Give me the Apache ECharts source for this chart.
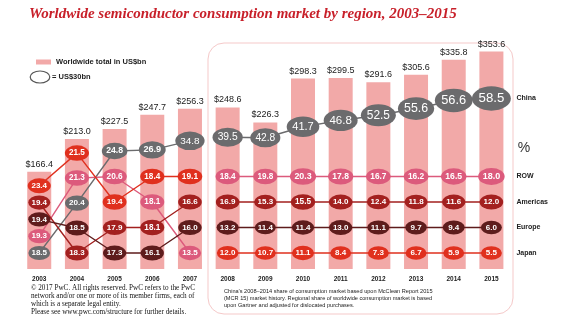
<!DOCTYPE html>
<html><head><meta charset="utf-8">
<script src="https://cdn.jsdelivr.net/npm/echarts@6/dist/echarts.min.js"></script>
<style>html,body{margin:0;padding:0;background:#fff}#c{width:570px;height:321px}</style>
</head><body><div id="c"></div>
<script>
// ---------------- data ----------------
const years    = ['2003','2004','2005','2006','2007','2008','2009','2010','2011','2012','2013','2014','2015'];
const totals   = [166.4, 213.0, 227.5, 247.7, 256.3, 248.6, 226.3, 298.3, 299.5, 291.6, 305.6, 335.8, 353.6];
const china    = [18.5, 20.4, 24.8, 26.9, 34.8, 39.5, 42.8, 41.7, 46.8, 52.5, 55.6, 56.6, 58.5];
const row      = [19.3, 21.3, 20.6, 18.1, 13.5, 18.4, 19.8, 20.3, 17.8, 16.7, 16.2, 16.5, 18.0];
const americas = [19.4, 18.3, 17.9, 18.1, 16.6, 16.9, 15.3, 15.5, 14.0, 12.4, 11.8, 11.6, 12.0];
const europe   = [19.4, 18.5, 17.3, 16.1, 16.0, 13.2, 11.4, 11.4, 13.0, 11.1, 9.7, 9.4, 6.0];
const japan    = [23.4, 21.5, 19.4, 18.4, 19.1, 12.0, 10.7, 11.1, 8.4, 7.3, 6.7, 5.9, 5.5];
const regionNames = ['China', 'ROW', 'Americas', 'Europe', 'Japan'];
const regionData  = [china, row, americas, europe, japan];
const keyValue = 30; // US$bn ellipse key
const splitAt = 5;   // 2003-2007 | 2008-2015 panels

// ---------------- styles ----------------
const regionColors = ['#6b6b6d', '#dc5a7c', '#a3201f', '#5e1c1c', '#e0301e'];
const barColor = '#f2a9a8';
const GRID_TOP = 40, GRID_H = 229, CAT_W = 37.68, GRID_LEFT = 20.4;

function sizeFor(bn) {
  const w = Math.min(40, Math.max(21, 11 + 1.94 * Math.sqrt(bn)));
  return [w, 0.6 * w + 1];
}

const chart = echarts.init(document.getElementById('c'), null, {renderer: 'canvas'});

const panels = [
  {idx: [0, splitAt], left: GRID_LEFT, width: CAT_W * splitAt},
  {idx: [splitAt, years.length], left: GRID_LEFT + CAT_W * splitAt, width: CAT_W * (years.length - splitAt)}
];

const baseOption = {
  animation: false,
  backgroundColor: '#fff',
  title: {
    text: 'Worldwide semiconductor consumption market by region, 2003–2015',
    left: 24, top: 2,
    textStyle: {fontFamily: 'Liberation Serif', fontStyle: 'italic', fontWeight: 'bold', fontSize: 15, color: '#c8202a'}
  },
  legend: {
    left: 31, top: 53, itemWidth: 15, itemHeight: 5, icon: 'rect', itemGap: 6,
    data: ['Worldwide total in US$bn'],
    textStyle: {fontFamily: 'Liberation Sans', fontSize: 7.5, fontWeight: 'bold', color: '#222'}
  },
  grid: panels.map(p => ({left: p.left, width: p.width, top: GRID_TOP, height: GRID_H})),
  xAxis: panels.map((p, g) => ({
    type: 'category', gridIndex: g, data: years.slice(p.idx[0], p.idx[1]),
    axisLine: {show: false}, axisTick: {show: false},
    axisLabel: {margin: 7, fontFamily: 'Liberation Sans', fontSize: 6.5, fontWeight: 'bold', color: '#222'}
  })),
  yAxis: [
    {type: 'value', gridIndex: 0, min: 27.4, max: 354.6, show: false, splitLine: {show: false}},
    {type: 'log', gridIndex: 1, min: 89.9, max: 380.2, startValue: 89.9, show: false, splitLine: {show: false}},
    {type: 'value', gridIndex: 0, min: 0, max: GRID_H, inverse: true, show: false, splitLine: {show: false}},
    {type: 'value', gridIndex: 1, min: 0, max: GRID_H, inverse: true, show: false, splitLine: {show: false}}
  ],
  series: panels.map((p, g) => ({
    type: 'bar', name: 'Worldwide total in US$bn', xAxisIndex: g, yAxisIndex: g,
    data: totals.slice(p.idx[0], p.idx[1]), barWidth: 24, z: 1, silent: true,
    itemStyle: {color: barColor},
    label: {show: true, position: 'top', distance: 3, formatter: d => '$' + d.value.toFixed(1),
            fontFamily: 'Liberation Sans', fontSize: 9, color: '#222'}
  }))
};
chart.setOption(baseOption);

// ---------- bubble layout from data: rank within each year ----------
const laneBottomPx = GRID_TOP + GRID_H - 16;
function layoutYear(i, g) {
  const barTop = chart.convertToPixel({yAxisIndex: g}, totals[i]);
  const vals = regionData.map(a => a[i]);
  const order = vals.map((v, k) => k).sort((a, b) => vals[b] - vals[a]);
  const s = Math.min(25.5, (laneBottomPx - barTop - 14) / 4);
  const y = new Array(5);
  for (let r = 1; r <= 4; r++) y[order[r]] = laneBottomPx - s * (4 - r);
  const bnTop = vals[order[0]] * totals[i] / 100;
  y[order[0]] = y[order[1]] - Math.max(s, Math.min(78, 0.4 * bnTop));
  return y;
}

const series = baseOption.series.slice();
panels.forEach((p, g) => {
  const layoutAxis = g + 2;
  const pos = [];
  for (let i = p.idx[0]; i < p.idx[1]; i++) pos.push(layoutYear(i, g));
  regionNames.forEach((name, k) => {
    const pts = [];
    const items = [];
    for (let i = p.idx[0]; i < p.idx[1]; i++) {
      const local = i - p.idx[0];
      const yv = chart.convertFromPixel({yAxisIndex: layoutAxis}, pos[local][k]);
      pts.push([local, yv]);
      const sz = sizeFor(regionData[k][i] * totals[i] / 100);
      items.push({
        value: [local, yv], share: regionData[k][i], symbolSize: sz,
        label: {fontSize: Math.max(8, 0.34 * sz[0]), fontWeight: sz[0] < 28 ? 'bold' : 'normal'}
      });
    }
    const line = {
      type: 'line', name: name, xAxisIndex: g, yAxisIndex: layoutAxis, data: pts,
      showSymbol: false, symbol: 'none', silent: true, z: 2,
      lineStyle: {color: regionColors[k], width: 1.4}
    };
    if (g === 1) {
      line.endLabel = {show: true, formatter: name, distance: 25, align: 'left',
        fontFamily: 'Liberation Sans', fontSize: 7, fontWeight: 'bold', color: '#222'};
    }
    series.push(line);
    series.push({
      type: 'scatter', name: name + ' share', xAxisIndex: g, yAxisIndex: layoutAxis, data: items,
      symbol: 'circle', silent: true, z: 3,
      itemStyle: {color: regionColors[k], opacity: 1},
      label: {show: true, position: 'inside', formatter: d => d.data.share.toFixed(1),
              fontFamily: 'Liberation Sans', color: '#fff'}
    });
  });
});

const key = sizeFor(keyValue);
chart.setOption({
  series: series,
  graphic: [
    {type: 'rect', shape: {x: 208, y: 43, width: 305, height: 271, r: 16},
     style: {fill: 'none', stroke: '#f5c9c9', lineWidth: 1}, z: 0},
    {type: 'ellipse', shape: {cx: 40, cy: 77, rx: key[0] / 2 - 1, ry: key[1] / 2 - 1},
     style: {fill: '#fff', stroke: '#555', lineWidth: 1.2}},
    {type: 'text', x: 52, y: 77, style: {text: '= US$' + keyValue + 'bn', verticalAlign: 'middle',
      font: 'bold 7.5px "Liberation Sans"', fill: '#222'}},
    {type: 'text', x: 524, y: 148, style: {text: '%', align: 'center', verticalAlign: 'middle',
      font: '14px "Liberation Sans"', fill: '#333'}},
    {type: 'text', x: 31, y: 284, style: {
      text: '\u00A9 2017 PwC. All rights reserved. PwC refers to the PwC\nnetwork and/or one or more of its member firms, each of\nwhich is a separate legal entity.\nPlease see www.pwc.com/structure for further details.',
      font: '7.2px "Liberation Serif"', lineHeight: 7.9, fill: '#111'}},
    {type: 'text', x: 224, y: 288, style: {
      text: 'China\u2019s 2008–2014 share of consumption market based upon McClean Report 2015\n(MCR 15) market history. Regional share of worldwide consumption market is based\nupon Gartner and adjusted for dislocated purchases.',
      font: '5.6px "Liberation Sans"', lineHeight: 7, fill: '#222'}}
  ]
});
</script></body></html>
